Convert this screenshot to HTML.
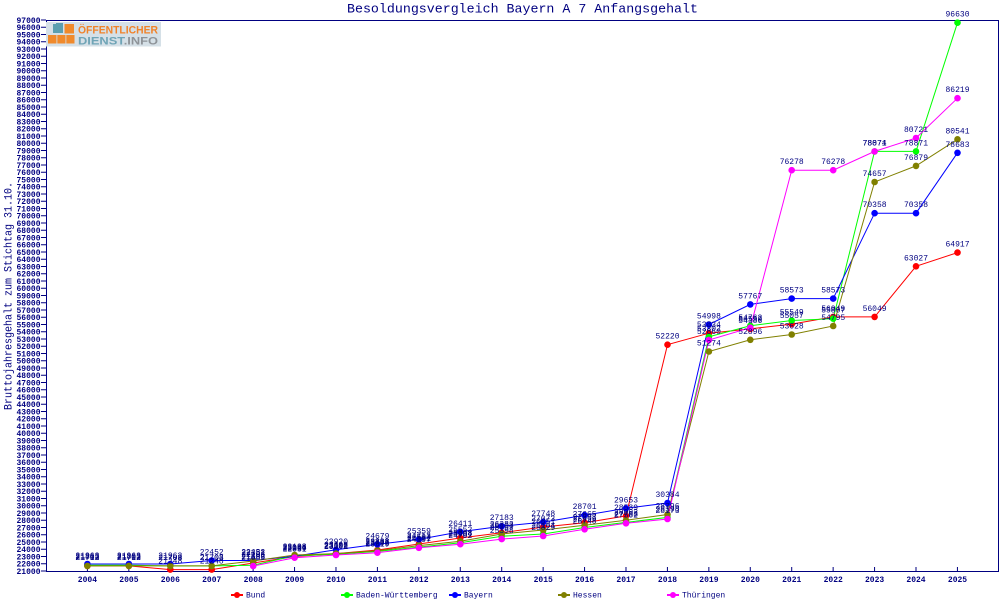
<!DOCTYPE html>
<html><head><meta charset="utf-8"><style>
html,body{margin:0;padding:0;background:#fff;}
svg{display:block;}
</style></head><body>
<svg width="1000" height="600" xmlns="http://www.w3.org/2000/svg" font-family="'Liberation Mono', monospace">
<rect width="1000" height="600" fill="#fff"/>
<!-- title -->
<text x="347" y="12.5" font-size="13" fill="#000080" textLength="351" lengthAdjust="spacingAndGlyphs">Besoldungsvergleich Bayern A 7 Anfangsgehalt</text>
<!-- y label -->
<text transform="translate(11.5,296) rotate(-90)" text-anchor="middle" font-size="11" fill="#000080" textLength="228" lengthAdjust="spacingAndGlyphs">Bruttojahresgehalt zum Stichtag 31.10.</text>
<!-- frame -->
<path d="M46.5 20.5H998.5V571.5H46.5Z" fill="none" stroke="#000080" stroke-width="1"/>
<!-- y ticks -->
<line x1="43.5" y1="19.5" x2="43.5" y2="572" stroke="#000080" stroke-width="5" stroke-dasharray="1 6.25"/>
<!-- x ticks -->
<line x1="86.9" y1="569" x2="959" y2="569" stroke="#000080" stroke-width="4" stroke-dasharray="1 40.43"/>
<!-- y tick labels -->
<text font-size="8" font-weight="bold" fill="#000080" text-anchor="end">
<tspan x="40.5" y="22.8">97000</tspan><tspan x="40.5" dy="7.25">96000</tspan><tspan x="40.5" dy="7.25">95000</tspan><tspan x="40.5" dy="7.25">94000</tspan><tspan x="40.5" dy="7.25">93000</tspan><tspan x="40.5" dy="7.25">92000</tspan><tspan x="40.5" dy="7.25">91000</tspan><tspan x="40.5" dy="7.25">90000</tspan><tspan x="40.5" dy="7.25">89000</tspan><tspan x="40.5" dy="7.25">88000</tspan><tspan x="40.5" dy="7.25">87000</tspan><tspan x="40.5" dy="7.25">86000</tspan><tspan x="40.5" dy="7.25">85000</tspan><tspan x="40.5" dy="7.25">84000</tspan><tspan x="40.5" dy="7.25">83000</tspan><tspan x="40.5" dy="7.25">82000</tspan><tspan x="40.5" dy="7.25">81000</tspan><tspan x="40.5" dy="7.25">80000</tspan><tspan x="40.5" dy="7.25">79000</tspan><tspan x="40.5" dy="7.25">78000</tspan><tspan x="40.5" dy="7.25">77000</tspan><tspan x="40.5" dy="7.25">76000</tspan><tspan x="40.5" dy="7.25">75000</tspan><tspan x="40.5" dy="7.25">74000</tspan><tspan x="40.5" dy="7.25">73000</tspan><tspan x="40.5" dy="7.25">72000</tspan><tspan x="40.5" dy="7.25">71000</tspan><tspan x="40.5" dy="7.25">70000</tspan><tspan x="40.5" dy="7.25">69000</tspan><tspan x="40.5" dy="7.25">68000</tspan><tspan x="40.5" dy="7.25">67000</tspan><tspan x="40.5" dy="7.25">66000</tspan><tspan x="40.5" dy="7.25">65000</tspan><tspan x="40.5" dy="7.25">64000</tspan><tspan x="40.5" dy="7.25">63000</tspan><tspan x="40.5" dy="7.25">62000</tspan><tspan x="40.5" dy="7.25">61000</tspan><tspan x="40.5" dy="7.25">60000</tspan><tspan x="40.5" dy="7.25">59000</tspan><tspan x="40.5" dy="7.25">58000</tspan><tspan x="40.5" dy="7.25">57000</tspan><tspan x="40.5" dy="7.25">56000</tspan><tspan x="40.5" dy="7.25">55000</tspan><tspan x="40.5" dy="7.25">54000</tspan><tspan x="40.5" dy="7.25">53000</tspan><tspan x="40.5" dy="7.25">52000</tspan><tspan x="40.5" dy="7.25">51000</tspan><tspan x="40.5" dy="7.25">50000</tspan><tspan x="40.5" dy="7.25">49000</tspan><tspan x="40.5" dy="7.25">48000</tspan><tspan x="40.5" dy="7.25">47000</tspan><tspan x="40.5" dy="7.25">46000</tspan><tspan x="40.5" dy="7.25">45000</tspan><tspan x="40.5" dy="7.25">44000</tspan><tspan x="40.5" dy="7.25">43000</tspan><tspan x="40.5" dy="7.25">42000</tspan><tspan x="40.5" dy="7.25">41000</tspan><tspan x="40.5" dy="7.25">40000</tspan><tspan x="40.5" dy="7.25">39000</tspan><tspan x="40.5" dy="7.25">38000</tspan><tspan x="40.5" dy="7.25">37000</tspan><tspan x="40.5" dy="7.25">36000</tspan><tspan x="40.5" dy="7.25">35000</tspan><tspan x="40.5" dy="7.25">34000</tspan><tspan x="40.5" dy="7.25">33000</tspan><tspan x="40.5" dy="7.25">32000</tspan><tspan x="40.5" dy="7.25">31000</tspan><tspan x="40.5" dy="7.25">30000</tspan><tspan x="40.5" dy="7.25">29000</tspan><tspan x="40.5" dy="7.25">28000</tspan><tspan x="40.5" dy="7.25">27000</tspan><tspan x="40.5" dy="7.25">26000</tspan><tspan x="40.5" dy="7.25">25000</tspan><tspan x="40.5" dy="7.25">24000</tspan><tspan x="40.5" dy="7.25">23000</tspan><tspan x="40.5" dy="7.25">22000</tspan><tspan x="40.5" dy="7.25">21000</tspan>
</text>
<!-- x labels -->
<g font-size="8" font-weight="bold" fill="#000080" text-anchor="middle">
<text x="87.4" y="582">2004</text><text x="128.9" y="582">2005</text><text x="170.3" y="582">2006</text><text x="211.7" y="582">2007</text><text x="253.2" y="582">2008</text><text x="294.6" y="582">2009</text><text x="336.0" y="582">2010</text><text x="377.4" y="582">2011</text><text x="418.9" y="582">2012</text><text x="460.3" y="582">2013</text><text x="501.7" y="582">2014</text><text x="543.2" y="582">2015</text><text x="584.6" y="582">2016</text><text x="626.0" y="582">2017</text><text x="667.5" y="582">2018</text><text x="708.9" y="582">2019</text><text x="750.3" y="582">2020</text><text x="791.7" y="582">2021</text><text x="833.2" y="582">2022</text><text x="874.6" y="582">2023</text><text x="916.0" y="582">2024</text><text x="957.5" y="582">2025</text>
</g>
<!-- logo -->
<g>
<rect x="46" y="22" width="115" height="24.5" fill="#d5e0e7"/>
<path d="M53 24h3v-1h7v10h-10z" fill="#5b9fb0"/>
<rect x="64.5" y="24" width="9.5" height="9.5" fill="#f08a2c"/>
<rect x="48" y="35" width="8.5" height="8.5" fill="#f08a2c"/>
<rect x="57.3" y="35" width="8.2" height="8.5" fill="#f08a2c"/>
<rect x="66.3" y="35" width="8.2" height="8.5" fill="#f08a2c"/>
<text x="78" y="33.5" font-family="'Liberation Sans', sans-serif" font-weight="bold" font-size="11" fill="#f0822a" textLength="80" lengthAdjust="spacingAndGlyphs">ÖFFENTLICHER</text>
<text x="78" y="44.5" font-family="'Liberation Sans', sans-serif" font-weight="bold" font-size="11" textLength="80" lengthAdjust="spacingAndGlyphs"><tspan fill="#6fa4b6">DIENST</tspan><tspan fill="#8e9398">.INFO</tspan></text>
</g>
<!-- series -->
<g fill="none" stroke-width="1">
<polyline stroke="#ff0000" points="87.4,565.9 128.9,565.9 170.3,569.6 211.7,569.6 253.2,563.0 294.6,556.5 336.0,553.6 377.4,550.0 418.9,544.0 460.3,538.0 501.7,532.7 543.2,527.0 584.6,522.7 626.0,515.9 667.5,344.7 708.9,333.2 750.3,328.9 791.7,324.1 833.2,316.9 874.6,316.9 916.0,266.3 957.5,252.6"/>
<polyline stroke="#00ff00" points="87.4,565.2 128.9,565.2 170.3,565.9 211.7,565.9 253.2,565.2 294.6,555.8 336.0,554.3 377.4,551.4 418.9,547.1 460.3,542.7 501.7,536.2 543.2,534.0 584.6,527.5 626.0,522.4 667.5,517.4 708.9,336.8 750.3,325.8 791.7,320.5 833.2,318.7 874.6,151.4 916.0,151.4 957.5,22.7"/>
<polyline stroke="#0000ff" points="87.4,564.0 128.9,564.0 170.3,564.0 211.7,560.5 253.2,560.5 294.6,556.2 336.0,549.8 377.4,544.3 418.9,539.4 460.3,531.8 501.7,526.2 543.2,522.1 584.6,515.2 626.0,508.3 667.5,503.0 708.9,324.5 750.3,304.4 791.7,298.6 833.2,298.6 874.6,213.2 916.0,213.2 957.5,152.8"/>
<polyline stroke="#808000" points="87.4,565.9 128.9,565.9 170.3,565.9 211.7,565.9 253.2,561.0 294.6,555.0 336.0,553.6 377.4,550.7 418.9,545.6 460.3,541.3 501.7,534.0 543.2,530.0 584.6,525.3 626.0,520.3 667.5,514.5 708.9,351.5 750.3,339.8 791.7,334.5 833.2,326.0 874.6,182.0 916.0,165.9 957.5,139.3"/>
<polyline stroke="#ff00ff" points="253.2,566.0 294.6,557.7 336.0,555.0 377.4,552.7 418.9,547.8 460.3,544.2 501.7,539.1 543.2,536.0 584.6,529.3 626.0,523.3 667.5,519.0 708.9,340.0 750.3,327.7 791.7,170.2 833.2,170.2 874.6,151.4 916.0,138.0 957.5,98.2"/>
</g>
<!-- markers -->
<g fill="#ff0000">
<circle cx="87.4" cy="565.9" r="3.3"/><circle cx="128.9" cy="565.9" r="3.3"/><circle cx="170.3" cy="569.6" r="3.3"/><circle cx="211.7" cy="569.6" r="3.3"/><circle cx="253.2" cy="563.0" r="3.3"/><circle cx="294.6" cy="556.5" r="3.3"/><circle cx="336.0" cy="553.6" r="3.3"/><circle cx="377.4" cy="550.0" r="3.3"/><circle cx="418.9" cy="544.0" r="3.3"/><circle cx="460.3" cy="538.0" r="3.3"/><circle cx="501.7" cy="532.7" r="3.3"/><circle cx="543.2" cy="527.0" r="3.3"/><circle cx="584.6" cy="522.7" r="3.3"/><circle cx="626.0" cy="515.9" r="3.3"/><circle cx="667.5" cy="344.7" r="3.3"/><circle cx="708.9" cy="333.2" r="3.3"/><circle cx="750.3" cy="328.9" r="3.3"/><circle cx="791.7" cy="324.1" r="3.3"/><circle cx="833.2" cy="316.9" r="3.3"/><circle cx="874.6" cy="316.9" r="3.3"/><circle cx="916.0" cy="266.3" r="3.3"/><circle cx="957.5" cy="252.6" r="3.3"/>
</g>
<g fill="#00ff00">
<circle cx="87.4" cy="565.2" r="3.3"/><circle cx="128.9" cy="565.2" r="3.3"/><circle cx="170.3" cy="565.9" r="3.3"/><circle cx="211.7" cy="565.9" r="3.3"/><circle cx="253.2" cy="565.2" r="3.3"/><circle cx="294.6" cy="555.8" r="3.3"/><circle cx="336.0" cy="554.3" r="3.3"/><circle cx="377.4" cy="551.4" r="3.3"/><circle cx="418.9" cy="547.1" r="3.3"/><circle cx="460.3" cy="542.7" r="3.3"/><circle cx="501.7" cy="536.2" r="3.3"/><circle cx="543.2" cy="534.0" r="3.3"/><circle cx="584.6" cy="527.5" r="3.3"/><circle cx="626.0" cy="522.4" r="3.3"/><circle cx="667.5" cy="517.4" r="3.3"/><circle cx="708.9" cy="336.8" r="3.3"/><circle cx="750.3" cy="325.8" r="3.3"/><circle cx="791.7" cy="320.5" r="3.3"/><circle cx="833.2" cy="318.7" r="3.3"/><circle cx="874.6" cy="151.4" r="3.3"/><circle cx="916.0" cy="151.4" r="3.3"/><circle cx="957.5" cy="22.7" r="3.3"/>
</g>
<g fill="#0000ff">
<circle cx="87.4" cy="564.0" r="3.3"/><circle cx="128.9" cy="564.0" r="3.3"/><circle cx="170.3" cy="564.0" r="3.3"/><circle cx="211.7" cy="560.5" r="3.3"/><circle cx="253.2" cy="560.5" r="3.3"/><circle cx="294.6" cy="556.2" r="3.3"/><circle cx="336.0" cy="549.8" r="3.3"/><circle cx="377.4" cy="544.3" r="3.3"/><circle cx="418.9" cy="539.4" r="3.3"/><circle cx="460.3" cy="531.8" r="3.3"/><circle cx="501.7" cy="526.2" r="3.3"/><circle cx="543.2" cy="522.1" r="3.3"/><circle cx="584.6" cy="515.2" r="3.3"/><circle cx="626.0" cy="508.3" r="3.3"/><circle cx="667.5" cy="503.0" r="3.3"/><circle cx="708.9" cy="324.5" r="3.3"/><circle cx="750.3" cy="304.4" r="3.3"/><circle cx="791.7" cy="298.6" r="3.3"/><circle cx="833.2" cy="298.6" r="3.3"/><circle cx="874.6" cy="213.2" r="3.3"/><circle cx="916.0" cy="213.2" r="3.3"/><circle cx="957.5" cy="152.8" r="3.3"/>
</g>
<g fill="#808000">
<circle cx="87.4" cy="565.9" r="3.3"/><circle cx="128.9" cy="565.9" r="3.3"/><circle cx="170.3" cy="565.9" r="3.3"/><circle cx="211.7" cy="565.9" r="3.3"/><circle cx="253.2" cy="561.0" r="3.3"/><circle cx="294.6" cy="555.0" r="3.3"/><circle cx="336.0" cy="553.6" r="3.3"/><circle cx="377.4" cy="550.7" r="3.3"/><circle cx="418.9" cy="545.6" r="3.3"/><circle cx="460.3" cy="541.3" r="3.3"/><circle cx="501.7" cy="534.0" r="3.3"/><circle cx="543.2" cy="530.0" r="3.3"/><circle cx="584.6" cy="525.3" r="3.3"/><circle cx="626.0" cy="520.3" r="3.3"/><circle cx="667.5" cy="514.5" r="3.3"/><circle cx="708.9" cy="351.5" r="3.3"/><circle cx="750.3" cy="339.8" r="3.3"/><circle cx="791.7" cy="334.5" r="3.3"/><circle cx="833.2" cy="326.0" r="3.3"/><circle cx="874.6" cy="182.0" r="3.3"/><circle cx="916.0" cy="165.9" r="3.3"/><circle cx="957.5" cy="139.3" r="3.3"/>
</g>
<g fill="#ff00ff">
<circle cx="253.2" cy="566.0" r="3.3"/><circle cx="294.6" cy="557.7" r="3.3"/><circle cx="336.0" cy="555.0" r="3.3"/><circle cx="377.4" cy="552.7" r="3.3"/><circle cx="418.9" cy="547.8" r="3.3"/><circle cx="460.3" cy="544.2" r="3.3"/><circle cx="501.7" cy="539.1" r="3.3"/><circle cx="543.2" cy="536.0" r="3.3"/><circle cx="584.6" cy="529.3" r="3.3"/><circle cx="626.0" cy="523.3" r="3.3"/><circle cx="667.5" cy="519.0" r="3.3"/><circle cx="708.9" cy="340.0" r="3.3"/><circle cx="750.3" cy="327.7" r="3.3"/><circle cx="791.7" cy="170.2" r="3.3"/><circle cx="833.2" cy="170.2" r="3.3"/><circle cx="874.6" cy="151.4" r="3.3"/><circle cx="916.0" cy="138.0" r="3.3"/><circle cx="957.5" cy="98.2" r="3.3"/>
</g>
<!-- data labels -->
<g font-size="8" fill="#000080" text-anchor="middle">
<text x="87.4" y="559.9">21712</text><text x="128.9" y="559.9">21712</text><text x="170.3" y="563.6">21248</text><text x="211.7" y="563.6">21248</text><text x="253.2" y="557.0">22108</text><text x="294.6" y="550.5">22989</text><text x="336.0" y="547.6">23396</text><text x="377.4" y="544.0">23888</text><text x="418.9" y="538.0">24713</text><text x="460.3" y="532.0">25552</text><text x="501.7" y="526.7">26282</text><text x="543.2" y="521.0">27073</text><text x="584.6" y="516.7">27665</text><text x="626.0" y="509.9">28589</text><text x="667.5" y="338.7">52220</text><text x="708.9" y="327.2">53834</text><text x="750.3" y="322.9">54386</text><text x="791.7" y="318.1">55057</text><text x="833.2" y="310.9">56049</text><text x="874.6" y="310.9">56049</text><text x="916.0" y="260.3">63027</text><text x="957.5" y="246.6">64917</text>

<text x="87.4" y="559.2">21803</text><text x="128.9" y="559.2">21803</text><text x="170.3" y="559.9">21708</text><text x="211.7" y="559.9">21708</text><text x="253.2" y="559.2">21803</text><text x="294.6" y="549.8">23104</text><text x="336.0" y="548.3">23302</text><text x="377.4" y="545.4">23698</text><text x="418.9" y="541.1">24301</text><text x="460.3" y="536.7">24904</text><text x="501.7" y="530.2">25797</text><text x="543.2" y="528.0">26104</text><text x="584.6" y="521.5">26999</text><text x="626.0" y="516.4">27703</text><text x="667.5" y="511.4">28398</text><text x="708.9" y="330.8">53302</text><text x="750.3" y="319.8">54762</text><text x="791.7" y="314.5">55549</text><text x="833.2" y="312.7">55807</text><text x="874.6" y="145.4">78871</text><text x="916.0" y="145.4">78871</text><text x="957.5" y="16.7">96630</text>

<text x="87.4" y="558.0">21963</text><text x="128.9" y="558.0">21963</text><text x="170.3" y="558.0">21963</text><text x="211.7" y="554.5">22452</text><text x="253.2" y="554.5">22452</text><text x="294.6" y="550.2">23046</text><text x="336.0" y="543.8">23920</text><text x="377.4" y="538.3">24679</text><text x="418.9" y="533.4">25359</text><text x="460.3" y="525.8">26411</text><text x="501.7" y="520.2">27183</text><text x="543.2" y="516.1">27748</text><text x="584.6" y="509.2">28701</text><text x="626.0" y="502.3">29653</text><text x="667.5" y="497.0">30384</text><text x="708.9" y="318.5">54998</text><text x="750.3" y="298.4">57767</text><text x="791.7" y="292.6">58573</text><text x="833.2" y="292.6">58573</text><text x="874.6" y="207.2">70358</text><text x="916.0" y="207.2">70358</text><text x="957.5" y="146.8">78683</text>

<text x="87.4" y="559.9">21703</text><text x="128.9" y="559.9">21703</text><text x="170.3" y="559.9">21703</text><text x="211.7" y="559.9">21703</text><text x="253.2" y="555.0">22381</text><text x="294.6" y="549.0">23198</text><text x="336.0" y="547.6">23402</text><text x="377.4" y="544.7">23797</text><text x="418.9" y="539.6">24503</text><text x="460.3" y="535.3">25098</text><text x="501.7" y="528.0">26103</text><text x="543.2" y="524.0">26651</text><text x="584.6" y="519.3">27297</text><text x="626.0" y="514.3">28002</text><text x="667.5" y="508.5">28796</text><text x="708.9" y="345.5">51274</text><text x="750.3" y="333.8">52896</text><text x="791.7" y="328.5">53628</text><text x="833.2" y="320.0">54795</text><text x="874.6" y="176.0">74657</text><text x="916.0" y="159.9">76879</text><text x="957.5" y="133.3">80541</text>

<text x="253.2" y="560.0">21689</text><text x="294.6" y="551.7">22831</text><text x="336.0" y="549.0">23201</text><text x="377.4" y="546.7">23519</text><text x="418.9" y="541.8">24197</text><text x="460.3" y="538.2">24702</text><text x="501.7" y="533.1">25398</text><text x="543.2" y="530.0">25829</text><text x="584.6" y="523.3">26748</text><text x="626.0" y="517.3">27582</text><text x="667.5" y="513.0">28173</text><text x="708.9" y="334.0">52860</text><text x="750.3" y="321.7">54559</text><text x="791.7" y="164.2">76278</text><text x="833.2" y="164.2">76278</text><text x="874.6" y="145.4">78074</text><text x="916.0" y="132.0">80721</text><text x="957.5" y="92.2">86219</text>
</g>
<!-- legend -->
<g stroke-width="2">
<line x1="231" y1="595" x2="243" y2="595" stroke="#ff0000"/><circle cx="237" cy="595" r="3" fill="#ff0000"/>
<line x1="341" y1="595" x2="353" y2="595" stroke="#00ff00"/><circle cx="347" cy="595" r="3" fill="#00ff00"/>
<line x1="449" y1="595" x2="461" y2="595" stroke="#0000ff"/><circle cx="455" cy="595" r="3" fill="#0000ff"/>
<line x1="558" y1="595" x2="570" y2="595" stroke="#808000"/><circle cx="564" cy="595" r="3" fill="#808000"/>
<line x1="667" y1="595" x2="679" y2="595" stroke="#ff00ff"/><circle cx="673" cy="595" r="3" fill="#ff00ff"/>
</g>
<g font-size="8" fill="#000080">
<text x="246" y="597.5">Bund</text>
<text x="356" y="597.5">Baden-Württemberg</text>
<text x="464" y="597.5">Bayern</text>
<text x="573" y="597.5">Hessen</text>
<text x="682" y="597.5">Thüringen</text>
</g>
</svg>
</body></html>
